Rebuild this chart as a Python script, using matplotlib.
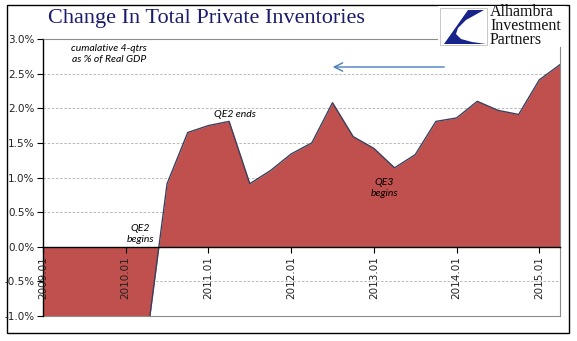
import numpy as np
import matplotlib.pyplot as plt
from matplotlib.patches import Rectangle, Polygon

# quarterly data, 2009Q1 - 2015Q2 (values below -1% are clipped by the axis)
quarters = ['2009.01', '2009.04', '2009.07', '2009.10',
            '2010.01', '2010.04', '2010.07', '2010.10',
            '2011.01', '2011.04', '2011.07', '2011.10',
            '2012.01', '2012.04', '2012.07', '2012.10',
            '2013.01', '2013.04', '2013.07', '2013.10',
            '2014.01', '2014.04', '2014.07', '2014.10',
            '2015.01', '2015.04']
inventories = [-1.3, -1.7, -1.9, -1.8,
               -1.6, -1.39, 0.91, 1.65,
               1.75, 1.81, 0.91, 1.10,
               1.34, 1.50, 2.08, 1.59,
               1.42, 1.14, 1.33, 1.81,
               1.86, 2.10, 1.97, 1.91,
               2.41, 2.63]
yticks = [-1.0, -0.5, 0.0, 0.5, 1.0, 1.5, 2.0, 2.5, 3.0]
year_ticks = [0, 4, 8, 12, 16, 20, 24]

W, H = 577, 341
fig = plt.figure(figsize=(W / 100, H / 100), dpi=100)
fig.patch.set_facecolor('white')

ax = fig.add_axes([43 / W, (H - 316) / H, (560 - 43) / W, (316 - 39) / H])
x = np.arange(len(inventories))
ax.fill_between(x, 0, inventories, color='#C0504D', lw=0, zorder=2)
ax.plot(x, inventories, color='#3B3F5C', lw=1.0, zorder=3)

# spine position first: moving it resets the tick labels
ax.spines['bottom'].set_position(('data', 0))
ax.spines['bottom'].set_color('black')
ax.spines['bottom'].set_linewidth(1.0)
ax.spines['left'].set_linewidth(1.0)
ax.spines['top'].set_color('#8C8C8C')
ax.spines['right'].set_color('#8C8C8C')
ax.spines['bottom'].set_zorder(4)

ax.set_xlim(0, len(inventories) - 1)
ax.set_ylim(-1.0, 3.0)
ax.set_yticks(yticks)
ax.set_yticklabels(['%.1f%%' % v for v in yticks], fontsize=7.5,
                   family='DejaVu Sans', color='#222222')
for v in yticks:
    if v not in (0.0, 3.0):
        ax.axhline(v, color='#B0B0B0', lw=0.6, ls=(0, (3, 2)), zorder=1)

ax.set_xticks(year_ticks)
ax.set_xticklabels([quarters[i] for i in year_ticks], rotation=90,
                   fontsize=7.5, family='DejaVu Sans', color='#222222')
ax.tick_params(axis='x', length=4, width=0.8, pad=3, labelrotation=90)
ax.tick_params(axis='y', length=4, width=0.8, pad=2)
ax.set_axisbelow(False)

# bottom frame line of plot area
ax.plot([0, 1], [0, 0], transform=ax.transAxes, color='#8C8C8C', lw=0.8, clip_on=False)

ital = dict(family='Lato', style='italic', fontsize=7.5, ha='center', va='center', color='black')
ax.text(3.2, 2.78, 'cumalative 4-qtrs\nas % of Real GDP', linespacing=1.3, **ital)
ax.text(9.3, 1.91, 'QE2 ends', **ital)
ax.text(4.7, 0.19, 'QE2\nbegins', linespacing=1.3, **ital)
ax.text(16.5, 0.85, 'QE3\nbegins', linespacing=1.3, **ital)

# overlay in pixel coordinates for title, logo, arrow, border
ov = fig.add_axes([0, 0, 1, 1], zorder=10)
ov.set_xlim(0, W)
ov.set_ylim(H, 0)
ov.axis('off')
ov.patch.set_alpha(0)

ov.add_patch(Rectangle((7, 5), 562, 328, fill=False, ec='black', lw=1.0))
ov.text(48, 18, 'Change In Total Private Inventories', family='Liberation Serif',
        fontsize=16, color='#1C1C6E', ha='left', va='center')

ov.annotate('', xy=(330, 67), xytext=(447, 67),
            arrowprops=dict(arrowstyle='->,head_length=0.6,head_width=0.3',
                            color='#4A7EBB', lw=1.0))

# logo
ov.add_patch(Rectangle((438, 6), 128, 41, fc='white', ec='none'))
ov.add_patch(Rectangle((440, 8), 47, 37, fc='white', ec='#BFBFBF', lw=0.6))
ov.add_patch(Polygon([(468, 10), (484, 10), (466, 20), (458, 28), (456, 34),
                      (461, 39), (472, 42), (486, 44), (444, 44)],
                     closed=True, fc='#17238A', ec='none'))
ov.text(490, 26, 'Alhambra\nInvestment\nPartners', family='Liberation Serif',
        fontsize=11.5, color='#111111', ha='left', va='center', linespacing=0.8)

fig.savefig('out.png', dpi=100)
